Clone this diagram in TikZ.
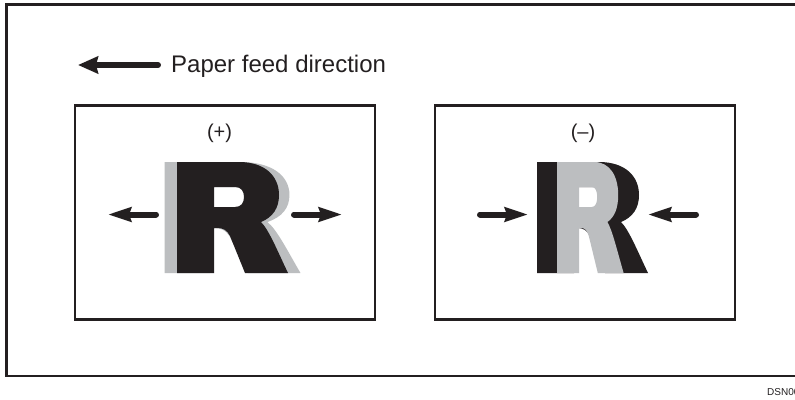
\documentclass[tikz,border=0pt]{standalone}
\usepackage{fontspec}
\setmainfont{Liberation Sans}
\usetikzlibrary{arrows.meta}
\definecolor{ink}{HTML}{231F20}
\definecolor{shade}{HTML}{BCBEC0}
\tikzset{
  myR/.pic={
    \fill[pic actions, even odd rule]
      (0,0) -- (62,0) .. controls (88,0) and (102,14) .. (102,33)
      .. controls (102,46) and (96,55) .. (84,60)
      .. controls (92,68) and (100,88) .. (111,111)
      -- (68,111) -- (53,74) .. controls (50,68) and (46,66) .. (40,66)
      -- (37,66) -- (37,111) -- (0,111) -- cycle
      (37,25) -- (58,25) .. controls (64,25) and (67,29) .. (67,35)
      .. controls (67,41) and (64,45) .. (58,45) -- (37,45) -- cycle;
  },
  frame/.style={draw=ink, line width=2.5pt},
  panel/.style={draw=ink, line width=2.2pt, fill=white, minimum width=300pt, minimum height=214pt, inner sep=0pt},
  feed/.style={draw=ink, line width=6pt, line cap=round, -{Stealth[length=20pt,width=17pt,inset=2pt]}},
  push/.style={draw=ink, line width=6pt, line cap=round, -{Stealth[length=23pt,width=14pt,inset=2pt]}},
  label/.style={inner sep=0pt, text=ink},
}
\begin{document}
\begin{tikzpicture}[x=1pt,y=-1pt]
\useasboundingbox (0,0) rectangle (795,399);
% outer frame (right side runs off the picture)
\draw[frame] (6.3,4.7) rectangle (815,375.8);

% paper feed direction
\coordinate (feedtail) at (158,65);
\coordinate (feedtip) at (78,65);
\draw[feed] (feedtail) -- (feedtip);
\node[label, anchor=base west, font=\fontsize{24}{28}\selectfont] (feedtext) at (171,72.5) {Paper feed direction};

% panels
\node[panel] (plus) at (224.6,212.5) {};
\node[panel] (minus) at (584.6,212.5) {};

% (+) panel
\node[label, anchor=base, font=\fontsize{20}{24}\selectfont] (plustext) at (219.5,138.5) {(+)};
\pic[fill=shade, xscale=1.225] at (164.5,162) {myR};
\pic[fill=ink] at (177,162) {myR};
\coordinate (pla) at (156,214.5);
\coordinate (plb) at (108,214.5);
\coordinate (pra) at (294,214.5);
\coordinate (prb) at (342,214.5);
\draw[push] (pla) -- (plb);
\draw[push] (pra) -- (prb);

% (-) panel
\node[label, anchor=base, font=\fontsize{20}{24}\selectfont] (minustext) at (583,138.5) {(–)};
\pic[fill=ink] at (537,162) {myR};
\pic[fill=shade, xscale=0.6] at (557,162) {myR};
\coordinate (mla) at (480,214.5);
\coordinate (mlb) at (528,214.5);
\coordinate (mra) at (696,214.5);
\coordinate (mrb) at (648,214.5);
\draw[push] (mla) -- (mlb);
\draw[push] (mra) -- (mrb);

% code
\node[label, anchor=base west, font=\fontsize{10}{12}\selectfont] (code) at (767,395.5) {DSN00};
\end{tikzpicture}
\end{document}
